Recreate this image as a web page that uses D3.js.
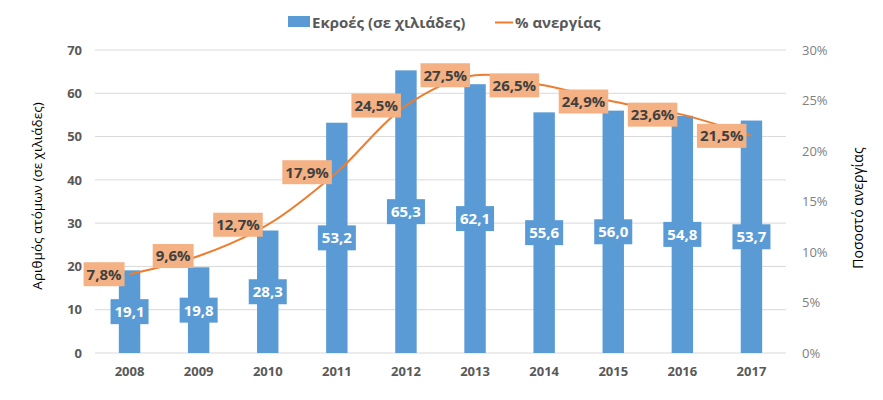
<!DOCTYPE html>
<html><head><meta charset="utf-8">
<script src="https://cdn.jsdelivr.net/npm/d3@7"></script>
<style>body{margin:0;background:#fff}svg{display:block}</style>
</head><body>
<svg id="c" width="883" height="400"></svg>
<script>
const years = ["2008","2009","2010","2011","2012","2013","2014","2015","2016","2017"];
const flows = [19.1,19.8,28.3,53.2,65.3,62.1,55.6,56.0,54.8,53.7];
const unemployment = [7.8,9.6,12.7,17.9,24.5,27.5,26.5,24.9,23.6,21.5];
const leftTicks = [0,10,20,30,40,50,60,70];
const rightTicks = [0,5,10,15,20,25,30];
const seriesNames = ["Εκροές (σε χιλιάδες)","% ανεργίας"];
const leftTitle = "Αριθμός ατόμων (σε χιλιάδες)";
const rightTitle = "Ποσοστό ανεργίας";

const F = "'Open Sans', 'Noto Sans', sans-serif";
const blue = "#5B9BD5", orange = "#ED7D31", boxOrange = "#F4B183";
const svg = d3.select("#c");
const m = {l:95, r:786, t:50, b:353};
const x = d3.scaleBand().domain(years).range([m.l, m.r]).paddingInner(0.69).paddingOuter(0.345);
const yL = d3.scaleLinear().domain([0,70]).range([m.b, m.t]);
const yR = d3.scaleLinear().domain([0,30]).range([m.b, m.t]);
const cx = d => x(d) + x.bandwidth()/2;

// gridlines
svg.append("g").selectAll("line").data(leftTicks).join("line")
  .attr("x1", m.l).attr("x2", m.r).attr("y1", d=>yL(d)).attr("y2", d=>yL(d))
  .attr("stroke", "#d9d9d9").attr("stroke-width", 1);

// left axis
const ax = svg.append("g").attr("transform", `translate(${m.l},0)`)
  .call(d3.axisLeft(yL).tickValues(leftTicks).tickSize(0).tickPadding(13));
ax.select(".domain").remove();
ax.selectAll("text").attr("font-family", F).attr("font-size", 13).attr("font-weight", "bold").attr("fill", "#595959");

// right axis
const ar = svg.append("g").attr("transform", `translate(${m.r},0)`)
  .call(d3.axisRight(yR).tickValues(rightTicks).tickSize(0).tickPadding(16).tickFormat(d=>d+"%"));
ar.select(".domain").remove();
ar.selectAll("text").attr("font-family", F).attr("font-size", 13).attr("fill", "#808080");

// x axis
const axx = svg.append("g").attr("transform", `translate(0,${m.b})`)
  .call(d3.axisBottom(x).tickSize(0).tickPadding(14));
axx.select(".domain").remove();
axx.selectAll("text").attr("font-family", F).attr("font-size", 13).attr("font-weight", "bold").attr("fill", "#595959");

// bars
svg.append("g").selectAll("rect").data(years).join("rect")
  .attr("x", d=>x(d)).attr("width", x.bandwidth())
  .attr("y", (d,i)=>yL(flows[i])).attr("height", (d,i)=>m.b - yL(flows[i]))
  .attr("fill", blue);

// bar labels
const fmt = v => d3.format(".1f")(v).replace(".", ",");
const bl = svg.append("g").selectAll("g").data(years).join("g");
bl.each(function(d,i){
  const g = d3.select(this);
  const yc = (yL(flows[i]) + m.b)/2;
  const t = g.append("text").attr("x", cx(d)).attr("y", yc).attr("dy","0.36em")
    .attr("text-anchor","middle").attr("font-family",F).attr("font-size",15).attr("font-weight","bold")
    .attr("fill","#fff").text(fmt(flows[i]));
  const w = t.node().getComputedTextLength();
  g.insert("rect","text").attr("x", cx(d)-w/2-4).attr("y", yc-12.5).attr("width", w+8).attr("height", 25).attr("fill", blue);
});

// line
const line = d3.line().x((d,i)=>cx(years[i])).y(d=>yR(d)).curve(d3.curveCatmullRom.alpha(0.5));
svg.append("path").datum(unemployment).attr("d", line).attr("fill","none").attr("stroke",orange).attr("stroke-width",2);

// line labels (left of point)
const ll = svg.append("g").selectAll("g").data(years).join("g");
ll.each(function(d,i){
  const g = d3.select(this);
  const yc = yR(unemployment[i]);
  const t = g.append("text").attr("y", yc).attr("dy","0.36em")
    .attr("text-anchor","end").attr("font-family",F).attr("font-size",15).attr("font-weight","bold")
    .attr("fill","#404040").text(fmt(unemployment[i])+"%");
  const w = t.node().getComputedTextLength();
  const right = cx(d) - 5;
  t.attr("x", right - 3);
  g.insert("rect","text").attr("x", right-w-6).attr("y", yc-12).attr("width", w+6).attr("height", 24).attr("fill", boxOrange);
});

// legend
const lg = svg.append("g");
lg.append("rect").attr("x",288).attr("y",16).attr("width",22).attr("height",11).attr("fill",blue);
lg.append("text").attr("x",312).attr("y",28).attr("font-family",F).attr("font-size",15).attr("font-weight","bold").attr("fill","#595959").text(seriesNames[0]);
lg.append("line").attr("x1",495).attr("x2",513).attr("y1",22.5).attr("y2",22.5).attr("stroke",orange).attr("stroke-width",2);
lg.append("text").attr("x",515).attr("y",28).attr("font-family",F).attr("font-size",15).attr("font-weight","bold").attr("fill","#595959").text(seriesNames[1]);

// axis titles
svg.append("text").attr("transform","translate(42,196) rotate(-90)").attr("text-anchor","middle")
  .attr("font-family",F).attr("font-size",13.5).attr("fill","#000").text(leftTitle);
svg.append("text").attr("transform","translate(863,208) rotate(-90)").attr("text-anchor","middle")
  .attr("font-family",F).attr("font-size",14).attr("fill","#000").text(rightTitle);
</script>
</body></html>
